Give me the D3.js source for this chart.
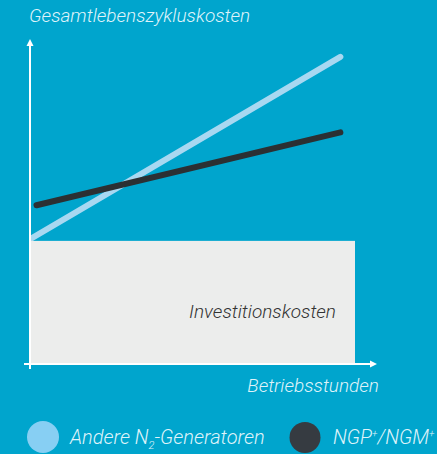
<!DOCTYPE html>
<html>
<head>
<meta charset="utf-8">
<script src="https://cdn.jsdelivr.net/npm/d3@7"></script>
<style>
  body { margin: 0; background: #00a5cd; }
  svg { display: block; }
  text { font-family: Roboto, "Noto Sans", sans-serif; font-style: italic; font-weight: 300; }
</style>
</head>
<body>
<svg id="chart" width="437" height="454"></svg>
<script>
// conceptual values (operating hours 0..10, cost 0..100)
var hoursDomain = [0, 10];
var costDomain = [0, 100];
var investment = 38;             // fixed investment block
var otherGen = [[0, 38.5], [9.55, 94.8]];   // Andere N2-Generatoren
var ngp = [[0.2, 49], [9.55, 71.5]];        // NGP+/NGM+
var legendItems = ["Andere N", "NGP"];

var svg = d3.select("#chart");

var x = d3.scaleLinear().domain(hoursDomain).range([30, 355]);
var y = d3.scaleLinear().domain(costDomain).range([364, 40]);

// keep the lines right of the y axis
svg.append("clipPath").attr("id", "plotClip")
    .append("rect")
    .attr("x", x(0)).attr("y", 0)
    .attr("width", 437).attr("height", 454);

var line = d3.line().x(d => x(d[0])).y(d => y(d[1]));

svg.append("path")
    .attr("clip-path", "url(#plotClip)")
    .attr("d", line(otherGen))
    .attr("stroke", "#a8d8f1")
    .attr("stroke-width", 6)
    .attr("stroke-linecap", "round")
    .attr("fill", "none");

svg.append("path")
    .attr("clip-path", "url(#plotClip)")
    .attr("d", line(ngp))
    .attr("stroke", "#2b3033")
    .attr("stroke-width", 6)
    .attr("stroke-linecap", "round")
    .attr("fill", "none");

// investment block
svg.append("rect")
    .attr("x", x(0))
    .attr("y", y(investment))
    .attr("width", x(10) - x(0))
    .attr("height", y(0) - y(investment))
    .attr("fill", "#ecedec");

svg.append("text")
    .attr("x", 336)
    .attr("y", 318)
    .attr("text-anchor", "end")
    .attr("font-size", 19)
    .attr("fill", "#333")
    .text("Investitionskosten");

// axes (white arrows)
svg.append("line")
    .attr("x1", 30).attr("y1", 369)
    .attr("x2", 30).attr("y2", 44)
    .attr("stroke", "#fff").attr("stroke-width", 2);
svg.append("path")
    .attr("d", "M30,39 L33.5,46 L26.5,46 Z")
    .attr("fill", "#fff");

svg.append("line")
    .attr("x1", 24).attr("y1", 364)
    .attr("x2", 372).attr("y2", 364)
    .attr("stroke", "#fff").attr("stroke-width", 2);
svg.append("path")
    .attr("d", "M377,364 L370,360.5 L370,367.5 Z")
    .attr("fill", "#fff");

// axis titles
svg.append("text")
    .attr("x", 29)
    .attr("y", 22)
    .attr("font-size", 19)
    .attr("fill", "#dff3fa")
    .text("Gesamtlebenszykluskosten");

svg.append("text")
    .attr("x", 379)
    .attr("y", 392)
    .attr("text-anchor", "end")
    .attr("font-size", 19)
    .attr("fill", "#dff3fa")
    .text("Betriebsstunden");

// legend
svg.append("circle").attr("cx", 43).attr("cy", 437).attr("r", 16).attr("fill", "#87cff3");
var t1 = svg.append("text").attr("x", 70).attr("y", 444).attr("font-size", 20).attr("fill", "#dff3fa");
t1.append("tspan").text(legendItems[0]);
t1.append("tspan").attr("font-size", 11).attr("dy", 5).text("2");
t1.append("tspan").attr("dy", -5).text("-Generatoren");

svg.append("circle").attr("cx", 305).attr("cy", 437.5).attr("r", 15.5).attr("fill", "#363b41");
var t2 = svg.append("text").attr("x", 333).attr("y", 444).attr("font-size", 20).attr("fill", "#dff3fa");
t2.append("tspan").text(legendItems[1]);
t2.append("tspan").attr("font-size", 10).attr("dy", -7).text("+");
t2.append("tspan").attr("dy", 7).text("/NGM");
t2.append("tspan").attr("font-size", 10).attr("dy", -7).text("+");
</script>
</body>
</html>
